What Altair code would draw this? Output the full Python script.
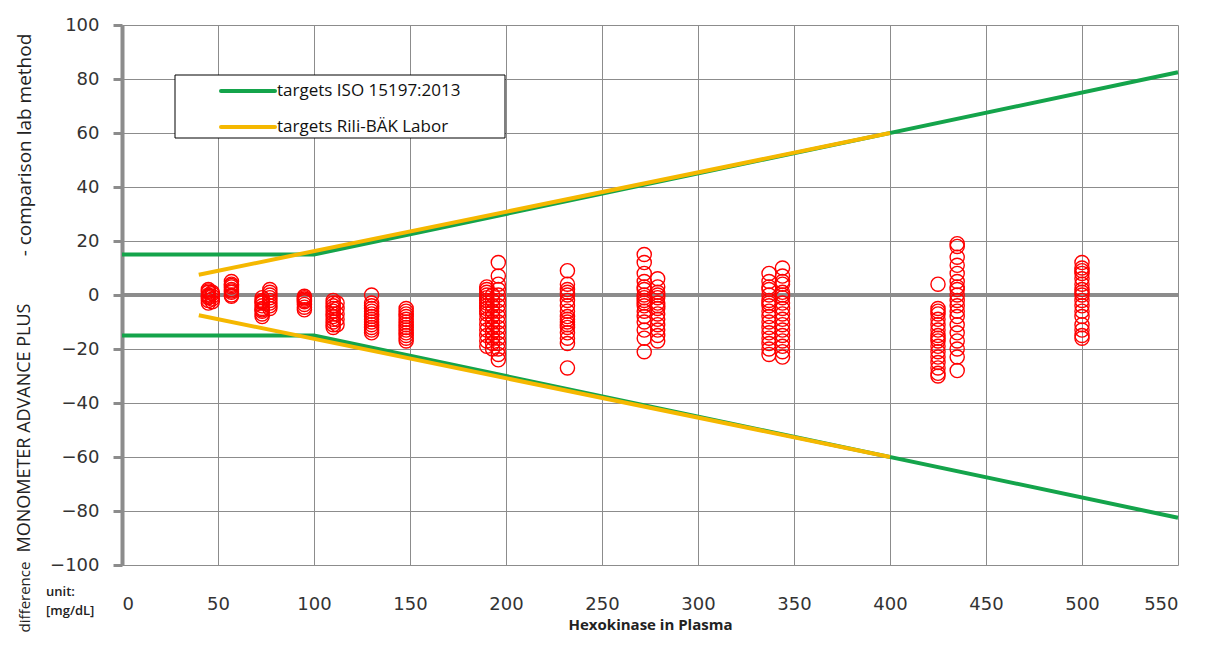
import altair as alt
import pandas as pd

# ---------------- data ----------------
x_ticks = list(range(0, 551, 50))
y_ticks = list(range(-100, 101, 20))

cluster_x = [45, 47, 57, 73, 77, 95, 110, 112, 130, 148, 190, 193, 196, 232, 272, 279, 337, 344, 425, 435, 500]
cluster_y = [
    [2, 1.5, 1, 0, -0.5, -1, -2, -3],
    [1, 0.5, -0.5, -1.5, -2.5],
    [5, 4, 3.5, 3, 2, 1.5, 1, 0, -0.5],
    [-1, -2, -2.5, -3, -4, -5, -5.5, -6, -7, -8],
    [2, 1, 0, -1, -2, -3, -4, -5],
    [-0.5, -1, -1.5, -2, -2.5, -3.5, -4.5, -5.5],
    [-2, -3, -4, -5, -6, -7, -8, -9, -10, -11, -12],
    [-3, -5, -7, -9, -11],
    [0, -3, -4, -5, -6, -7, -8, -9, -10, -11, -12, -13, -14],
    [-5, -6, -7, -8, -9, -10, -11, -12, -13, -14, -15, -16, -17],
    [3, 2, 1, 0, -1, -2, -3, -4, -5, -6, -7, -9, -11, -13, -15, -17, -19],
    [0, -2, -4, -6, -8, -10, -12, -14, -16, -18, -20],
    [12, 7, 4, 2, 0, -2, -4, -6, -8, -10, -12, -14, -16, -18, -20, -22, -24],
    [9, 4, 2, 1, 0, -2, -4, -6, -8, -9, -10, -11, -12, -14, -16, -18, -27],
    [15, 12, 8, 5, 3, 2, 0, -1, -2, -3, -4, -6, -8, -10, -13, -16, -21],
    [6, 3, 1, 0, -1, -3, -4, -5, -7, -9, -11, -13, -15, -17],
    [8, 5, 3, 2, 0, -2, -3, -4, -6, -8, -10, -12, -14, -16, -18, -20, -22],
    [10, 7, 5, 4, 1, 0, -1, -3, -5, -7, -9, -11, -13, -15, -17, -19, -21, -23],
    [4, -5, -6, -7, -9, -11, -13, -15, -16, -17, -19, -21, -23, -25, -27, -29, -30],
    [19, 18, 14, 11, 8, 5, 3, 2, 0, -2, -4, -6, -8, -11, -14, -17, -20, -23, -28],
    [12, 10, 9, 8, 6, 4, 2, 1, 0, -2, -4, -6, -8, -11, -13, -15, -16],
]

series_names = ["targets ISO 15197:2013", "targets Rili-BÄK Labor"]
series_colors = ["#14A44B", "#F5B800"]
iso_x = [0, 100, 550]
iso_upper = [15, 15, 82.5]
rili_x = [40, 400]
rili_upper = [7.5, 60]

# ---------------- tables ----------------
pts = pd.DataFrame(
    [{"x": cx, "y": v} for cx, ys in zip(cluster_x, cluster_y) for v in ys]
)


def band(xs, ups, name):
    rows = []
    for side, sign in (("upper", 1), ("lower", -1)):
        for xv, yv in zip(xs, ups):
            rows.append({"x": xv, "y": sign * yv, "series": name, "side": side})
    return pd.DataFrame(rows)


iso_df = band(iso_x, iso_upper, series_names[0])
rili_df = band(rili_x, rili_upper, series_names[1])
zero_df = pd.DataFrame({"x": [0], "x2": [550], "y": [0]})

grid_c = "#8c8c8c"

X = alt.X(
    "x:Q",
    scale=alt.Scale(domain=[0, 550], nice=False, zero=False),
    axis=alt.Axis(
        values=x_ticks,
        title="Hexokinase in Plasma",
        titleFont="Open Sans",
        titleFontSize=15,
        titleFontWeight="bold",
        titleColor="#222222",
        titlePadding=4,
        labelFont="DejaVu Sans",
        labelFontSize=18,
        labelColor="#333333",
        labelPadding=30,
        ticks=False,
        domain=False,
        grid=True,
        gridColor=grid_c,
        gridWidth=1,
    ),
)
Y = alt.Y(
    "y:Q",
    scale=alt.Scale(domain=[-100, 100], nice=False, zero=False),
    axis=alt.Axis(
        values=y_ticks,
        title=None,
        labelFont="DejaVu Sans",
        labelFontSize=18,
        labelColor="#333333",
        labelPadding=14,
        grid=True,
        gridColor=grid_c,
        gridWidth=1,
        domainColor=grid_c,
        domainWidth=4,
        tickColor=grid_c,
        tickWidth=3,
        tickSize=9,
    ),
)

zero_line = alt.Chart(zero_df).mark_rule(color=grid_c, strokeWidth=4).encode(
    x=X, x2="x2:Q", y=Y
)

color_scale = alt.Scale(domain=series_names, range=series_colors)

iso_lines = alt.Chart(iso_df).mark_line(strokeWidth=4).encode(
    x=X, y=Y, color=alt.Color("series:N", scale=color_scale, legend=None),
    detail="side:N",
)
rili_lines = alt.Chart(rili_df).mark_line(strokeWidth=4).encode(
    x=X, y=Y, color=alt.Color("series:N", scale=color_scale, legend=None),
    detail="side:N",
)

points = alt.Chart(pts).mark_point(
    shape="circle", filled=False, size=200, strokeWidth=1.4, color="#FF0000", opacity=1
).encode(x=X, y=Y)

# ---------------- manual legend ----------------
legend_box = alt.Chart(zero_df).mark_rect(
    fill="white", stroke="black", strokeWidth=1
).encode(x=alt.value(53), x2=alt.value(383), y=alt.value(50), y2=alt.value(113))

leg_iso_line = alt.Chart(zero_df).mark_rule(
    color=series_colors[0], strokeWidth=4, strokeCap="round"
).encode(x=alt.value(99), x2=alt.value(153), y=alt.value(66))
leg_rili_line = alt.Chart(zero_df).mark_rule(
    color=series_colors[1], strokeWidth=4, strokeCap="round"
).encode(x=alt.value(99), x2=alt.value(153), y=alt.value(102))

leg_iso_txt = alt.Chart(zero_df).mark_text(
    text=series_names[0], align="left", baseline="middle",
    font="Open Sans", fontSize=17, color="#111111"
).encode(x=alt.value(155), y=alt.value(66))
leg_rili_txt = alt.Chart(zero_df).mark_text(
    text=series_names[1], align="left", baseline="middle",
    font="Open Sans", fontSize=17, color="#111111"
).encode(x=alt.value(155), y=alt.value(102))

# ---------------- y title pieces & unit ----------------
yt1 = alt.Chart(zero_df).mark_text(
    text="- comparison lab method", angle=270, align="center", baseline="middle",
    font="Open Sans", fontSize=19, color="#222222"
).encode(x=alt.value(-97), y=alt.value(120))
yt2 = alt.Chart(zero_df).mark_text(
    text="MONOMETER ADVANCE PLUS", angle=270, align="center", baseline="middle",
    font="Open Sans", fontSize=18, color="#222222"
).encode(x=alt.value(-97), y=alt.value(403))
yt3 = alt.Chart(zero_df).mark_text(
    text="difference", angle=270, align="center", baseline="middle",
    font="Open Sans", fontSize=15, color="#222222"
).encode(x=alt.value(-97), y=alt.value(572))

unit_txt = alt.Chart(zero_df).mark_text(
    text=["unit:", "[mg/dL]"], align="left", baseline="middle", lineHeight=19,
    font="Open Sans", fontSize=13, fontWeight=600, color="#222222"
).encode(x=alt.value(-76), y=alt.value(567))

chart = alt.layer(
    zero_line, iso_lines, rili_lines, points,
    legend_box, leg_iso_line, leg_rili_line, leg_iso_txt, leg_rili_txt,
    yt1, yt2, yt3, unit_txt,
).properties(
    width=1056,
    height=540,
    autosize=alt.AutoSizeParams(type="none"),
    padding={"left": 114, "top": 17, "right": 26, "bottom": 72},
    background="white",
).configure_view(stroke=None)

chart.save("out.html", embed_options={"renderer": "svg", "actions": False})
